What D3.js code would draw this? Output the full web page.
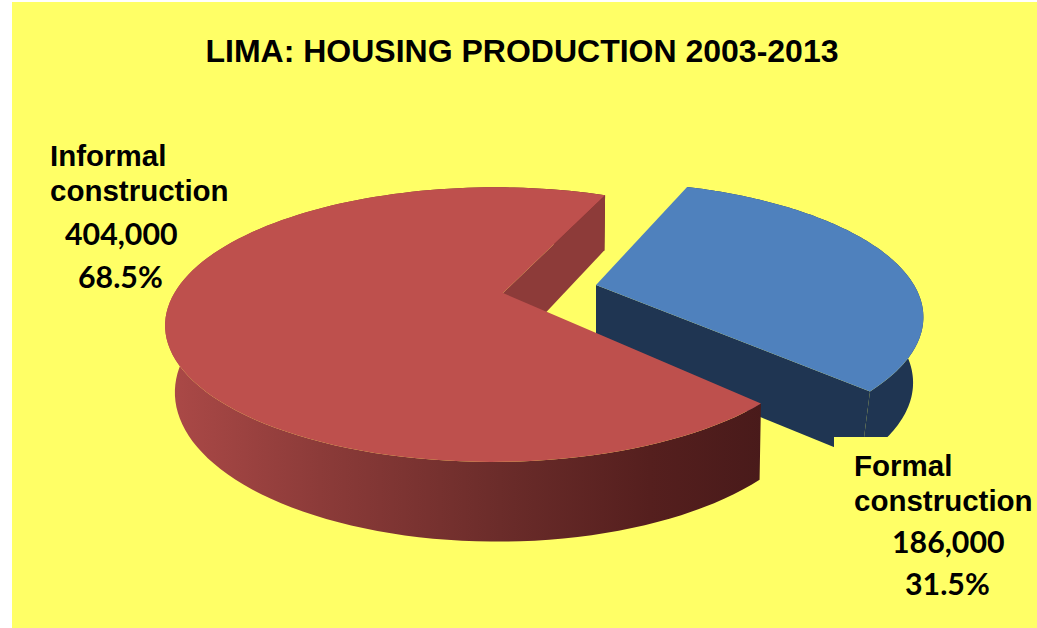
<!DOCTYPE html>
<html><head><meta charset="utf-8">
<script src="https://cdn.jsdelivr.net/npm/d3@7"></script>
<style>html,body{margin:0;padding:0;background:#fff}svg{display:block}</style>
</head><body><svg id="c" width="1037" height="628"></svg>
<script>
const title = "LIMA: HOUSING PRODUCTION 2003-2013";
const categories = ["Formal construction", "Informal construction"];
const values = [186000, 404000];
const shares = ["31.5%", "68.5%"];
const valueLabels = ["186,000", "404,000"];
const topColors = ["#4F81BD", "#BE504D"];

const svg = d3.select("#c");
const BG = "#FFFF66";
svg.append("rect").attr("x",12).attr("y",2).attr("width",1025).attr("height",626).attr("fill",BG);

const planes = [
  {top:{cx:596, cy:285, R:318, Ry:128, k:.2375, j:0},
   bot:{cx:596, cy:350, R:308, Ry:130, k:.2375, j:0}, rot:-2.5},
  {top:{cx:503, cy:293, R:319.4, Ry:130, k:.23, j:.028},
   bot:{cx:503, cy:358, R:315, Ry:142, k:.2267, j:.014}, rot:0}
];
const project = (p,u,v) => { const w = 1 - p.k*v + p.j*u; return [p.cx + p.R*u/w, p.cy + p.Ry*v/w]; };
const startDeg = 23;
const arcs = d3.pie().sort(null).startAngle(startDeg*Math.PI/180).endAngle((startDeg+360)*Math.PI/180)(values);
const rim = a => [Math.sin(a), -Math.cos(a)];
const line = d3.line();
const samples = (a0,a1) => d3.range(0,121).map(i => a0+(a1-a0)*i/120);

const defs = svg.append("defs");
const g = defs.append("linearGradient").attr("id","redSide").attr("gradientUnits","userSpaceOnUse")
  .attr("x1",170).attr("x2",770).attr("y1",0).attr("y2",0);
[[0,"#AB4947"],[.25,"#8C3B39"],[.55,"#6B2C2A"],[.8,"#551F1E"],[1,"#481A1A"]].forEach(s=>g.append("stop").attr("offset",s[0]).attr("stop-color",s[1]));

const wallFill = ["#1F3552","url(#redSide)"];
const innerFill = ["#1F3552","#8D3B39"];
arcs.forEach((d,i)=>{
  const P = planes[i], r = P.rot*Math.PI/180;
  const ang = samples(d.startAngle+r,d.endAngle+r);
  const t = ang.map(a=>project(P.top,...rim(a)));
  const b = ang.map(a=>project(P.bot,...rim(a)));
  svg.append("path").attr("d",line(t.concat(b.slice().reverse()))+"Z").attr("fill",wallFill[i]);
  const at = project(P.top,0,0), ab = project(P.bot,0,0);
  svg.append("path").attr("d",line([t[120],at,ab,b[120]])+"Z").attr("fill",innerFill[i]);
  svg.append("path").attr("d",line([at].concat(t))+"Z").attr("fill",topColors[i]);
});

svg.append("rect").attr("x",834).attr("y",437).attr("width",203).attr("height",191).attr("fill",BG);

svg.append("text").text(title).attr("x",522).attr("y",62).attr("text-anchor","middle")
  .attr("font-family","'Liberation Sans'").attr("font-weight","bold").attr("font-size",32).attr("fill","#000");

const words = c => c.split(" ");
const lab = (x,y,txt,fam,size) => svg.append("text").text(txt).attr("x",x).attr("y",y)
  .attr("font-family",fam).attr("font-weight","bold").attr("font-size",size).attr("fill","#000");
const W = ["'Liberation Sans'",29.5], N = ["Lato",30.3];
const [f1,f2] = words(categories[0]), [i1,i2] = words(categories[1]);
lab(50,166,i1,...W); lab(50,201,i2,...W); lab(65,245,valueLabels[1],...N); lab(78,288,shares[1],...N);
lab(854,476,f1,...W); lab(854,511,f2,...W); lab(892,553,valueLabels[0],...N); lab(905,595,shares[0],...N);
</script></body></html>
